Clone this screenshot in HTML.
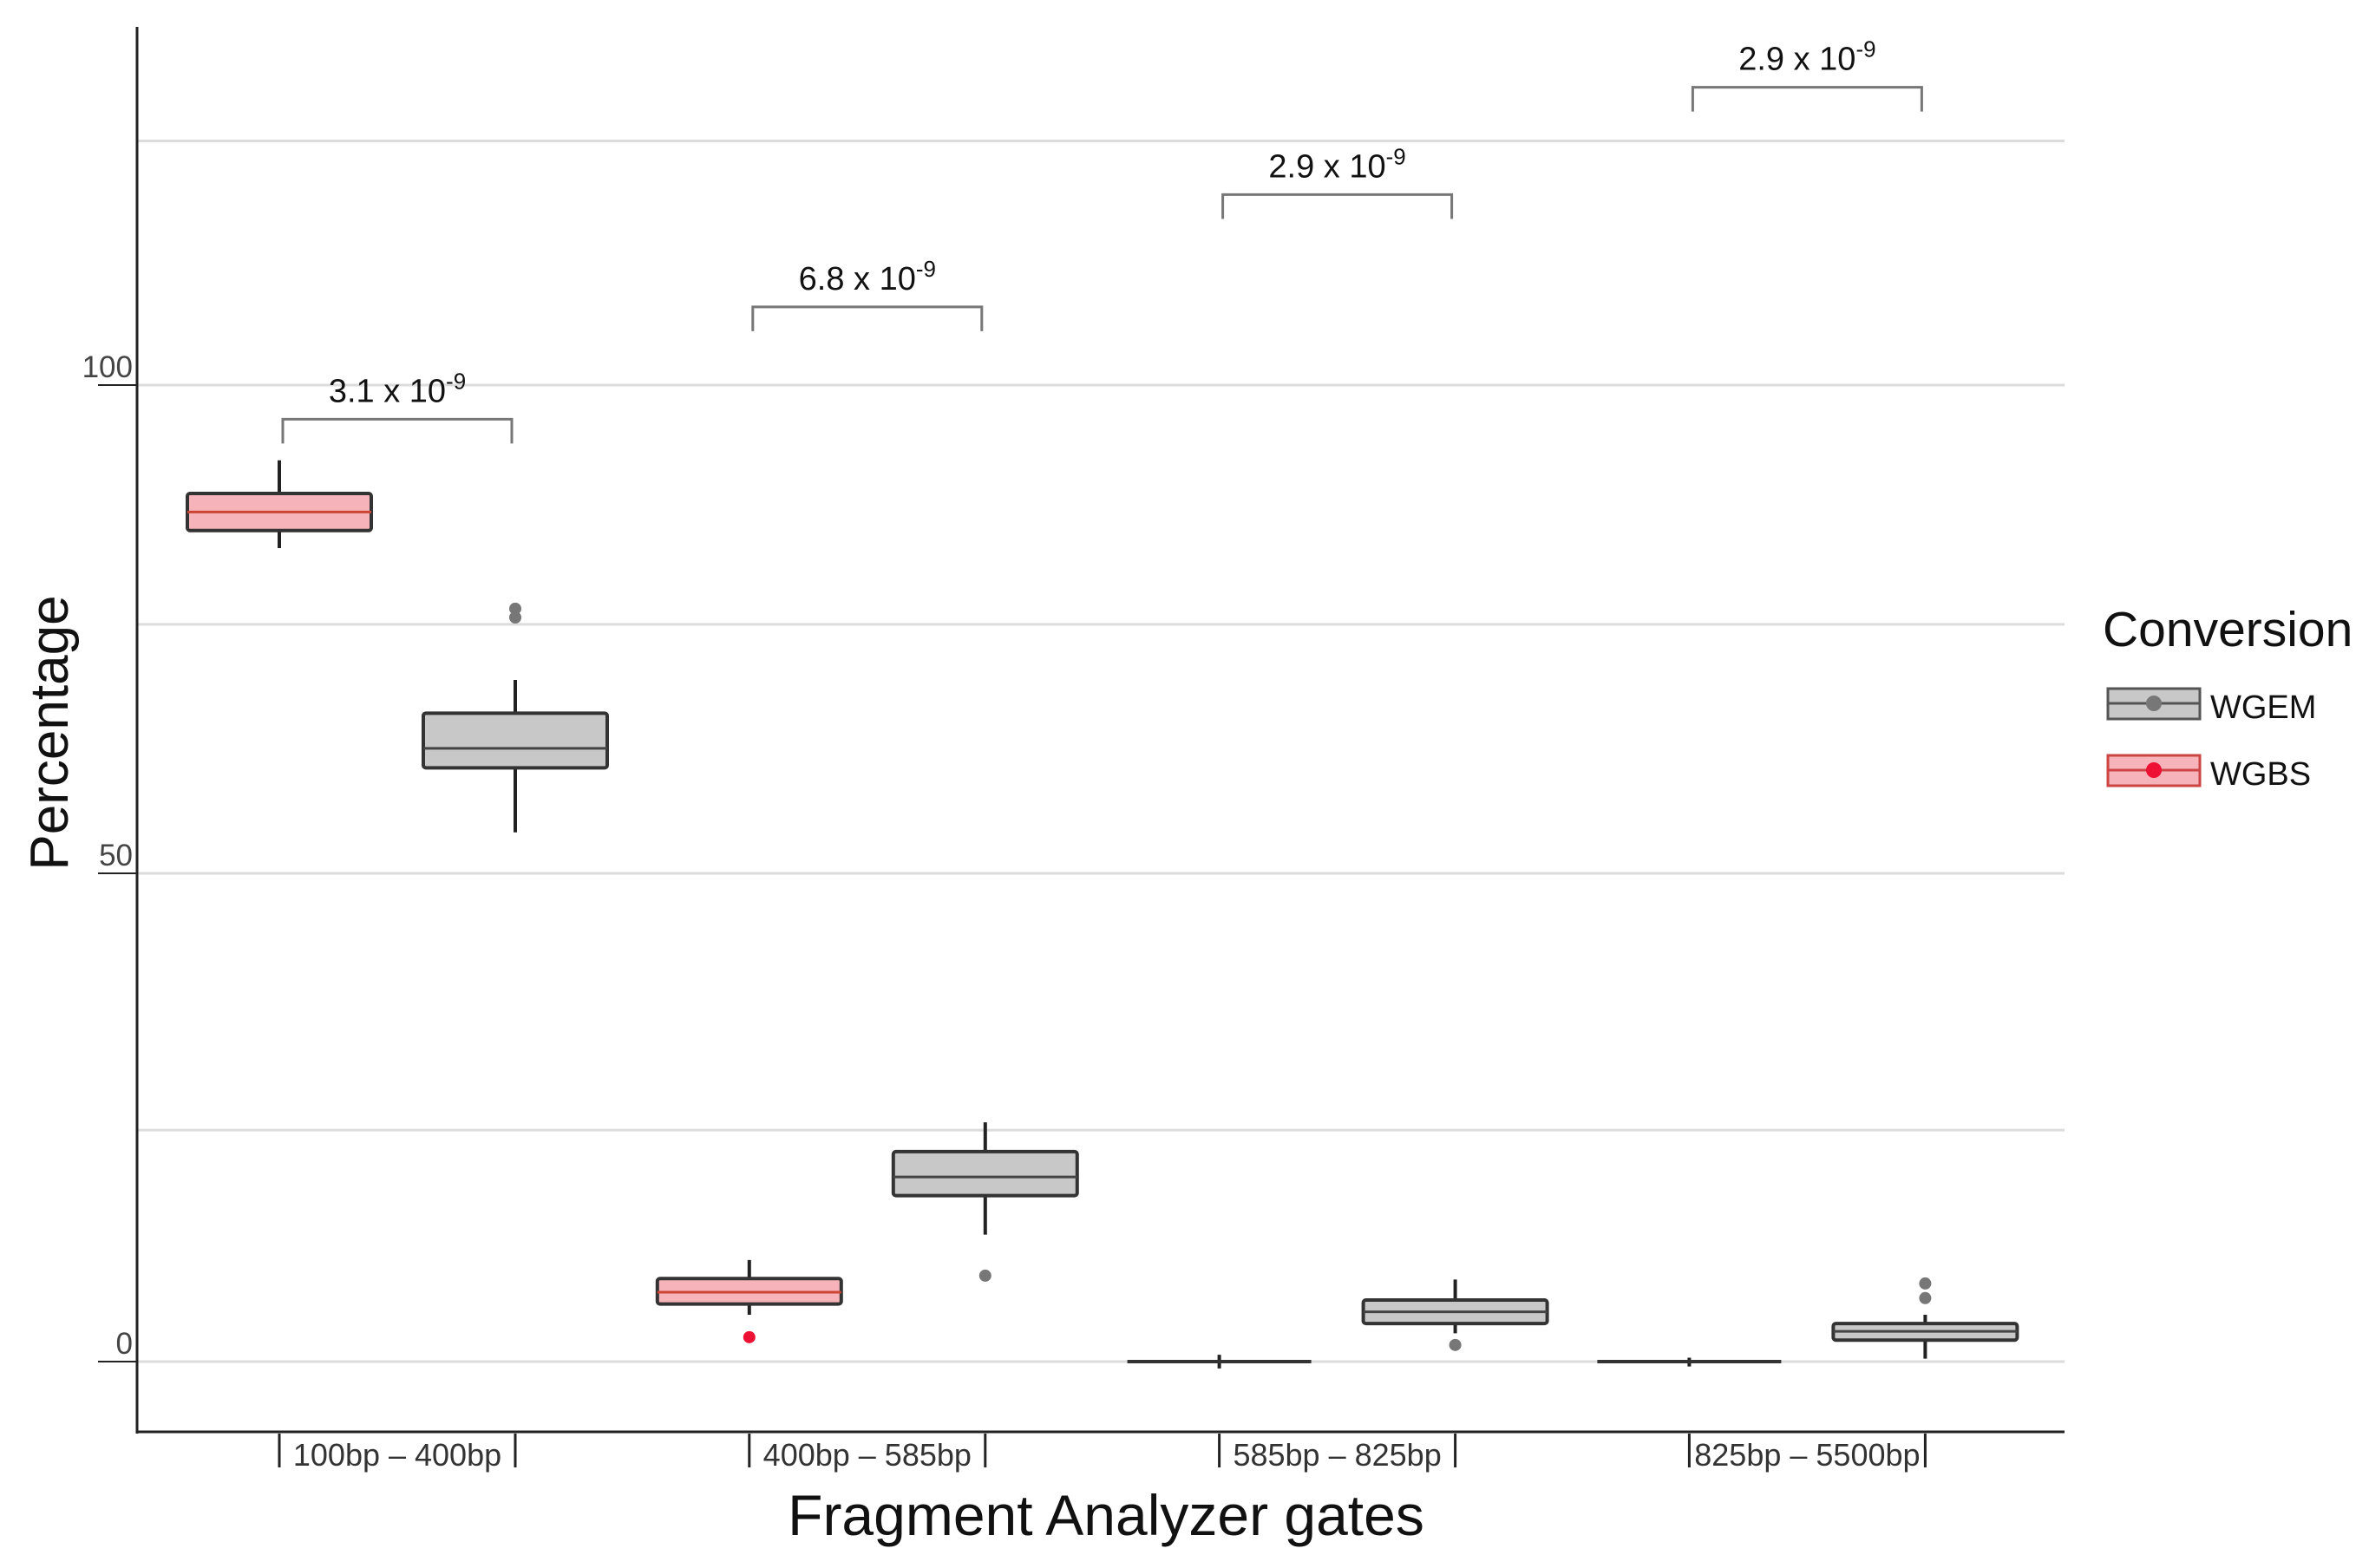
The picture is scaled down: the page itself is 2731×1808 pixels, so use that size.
<!DOCTYPE html>
<html><head><meta charset="utf-8"><style>
html,body{margin:0;padding:0;background:#fff;}
svg{display:block;font-family:"Liberation Sans","DejaVu Sans",sans-serif;}
</style></head><body>
<svg id="chart" width="2731" height="1808" viewBox="0 0 2731 1808" xmlns="http://www.w3.org/2000/svg">
<g id="grid"></g>
<g id="marks"></g>
<g id="axes"></g>
<g id="sig"></g>
<text x="0" y="0" transform="translate(78,845) rotate(-90)" text-anchor="middle" font-size="62" fill="#111">Percentage</text>
<text x="1275" y="1770" text-anchor="middle" font-size="66" fill="#111">Fragment Analyzer gates</text>
<g>
<text x="2424" y="745" font-size="57" fill="#111">Conversion</text>
<g>
<rect x="2430" y="794" width="106" height="35" fill="#c8c8c8" stroke="#555" stroke-width="3"/>
<line x1="2430" y1="811" x2="2536" y2="811" stroke="#555" stroke-width="3"/>
<circle cx="2483" cy="811" r="9" fill="#777"/>
<text x="2548" y="828" font-size="38" fill="#111">WGEM</text>
</g>
<g>
<rect x="2430" y="871" width="106" height="35" fill="#f6b3ba" stroke="#c44" stroke-width="3"/>
<line x1="2430" y1="888" x2="2536" y2="888" stroke="#c44" stroke-width="3"/>
<circle cx="2483" cy="888" r="9" fill="#ee1133"/>
<text x="2548" y="905" font-size="38" fill="#111">WGBS</text>
</g>
</g>
</svg>
<script>
const categories = ["100bp \u2013 400bp","400bp \u2013 585bp","585bp \u2013 825bp","825bp \u2013 5500bp"];
const gridValues = [125, 100, 75.5, 50, 23.7, 0];
const tickValues = [100, 50, 0];
const tickLabels = ["100", "50", "0"];
// [lowWhisker, q1, median, q3, highWhisker]
const wgbsStats = [[83.3,85.1,87.0,88.9,92.3],[4.8,5.9,7.1,8.5,10.4],[-0.7,0,0,0,0.7],[-0.5,0,0,0,0.4]];
const wgemStats = [[54.2,60.8,62.8,66.4,69.8],[13.0,17.0,18.9,21.5,24.5],[2.9,3.9,5.1,6.3,8.4],[0.3,2.2,3.1,3.9,4.8]];
const wgbsOutliers = [[],[2.5],[],[]];
const wgemOutliers = [[77.1,76.2],[8.8],[1.7],[8.0,6.5]];
const pLabels = ["3.1 x 10","6.8 x 10","2.9 x 10","2.9 x 10"];
const bracketValues = [96.5, 108, 119.5, 130.5];

const NS="http://www.w3.org/2000/svg";
const y = v => 1570 - 11.26*v;
const cx = i => 458 + 541.8*i;
const OFF = 136, BW = 212;
function mk(p,tag,attrs){const e=document.createElementNS(NS,tag);for(const k in attrs)e.setAttribute(k,attrs[k]);p.appendChild(e);return e;}
const grid=document.getElementById('grid'), marks=document.getElementById('marks'), axes=document.getElementById('axes'), sig=document.getElementById('sig');

gridValues.forEach(v=>{
  const l=mk(grid,'line',{x1:158,x2:2380,y1:y(v),y2:y(v),stroke:'#dcdcdc','stroke-width':3});
  
  
});
mk(axes,'line',{x1:158,x2:158,y1:31,y2:1653,stroke:'#222','stroke-width':3});
mk(axes,'line',{x1:157,x2:2380,y1:1651,y2:1651,stroke:'#222','stroke-width':3});
tickValues.forEach((v,i)=>{
  mk(axes,'line',{x1:113,x2:158,y1:y(v),y2:y(v),stroke:'#222','stroke-width':2});
  const t=mk(axes,'text',{x:153,y:y(v)-9,'text-anchor':'end','font-size':35,fill:'#444'});
  t.textContent=tickLabels[i];
  
  
});
categories.forEach((c,i)=>{
  const a=cx(i)-OFF, b=cx(i)+OFF;
  mk(axes,'line',{x1:a,x2:a,y1:1653,y2:1692,stroke:'#222','stroke-width':3});
  mk(axes,'line',{x1:b,x2:b,y1:1653,y2:1692,stroke:'#222','stroke-width':3});
  const t=mk(axes,'text',{x:cx(i),y:1690,'text-anchor':'middle','font-size':36,fill:'#333'});
  t.textContent=c;
  
  
});
function box(s,center,fill,stroke,name){
  const g=mk(marks,'g',{});
  
  
  mk(g,'line',{x1:center,x2:center,y1:y(s[4]),y2:y(s[0]),stroke:'#222','stroke-width':4});
  const flat = s[3]-s[1] <= 0.05;
  if(!flat){
    mk(g,'rect',{x:center-BW/2,y:y(s[3]),width:BW,height:y(s[1])-y(s[3]),fill:fill,stroke:'#333','stroke-width':4,rx:3});
  }
  mk(g,'line',{x1:center-BW/2,x2:center+BW/2,y1:y(s[2]),y2:y(s[2]),stroke:flat?'#333':stroke,'stroke-width':flat?4:3});
}
function outliers(arr,center,color){
  arr.forEach(v=>{
    const c=mk(marks,'circle',{cx:center,cy:y(v),r:7,fill:color});
    
    
  });
}
categories.forEach((c,i)=>{
  box(wgbsStats[i],cx(i)-OFF,'#f6b3ba','#c43','box-wgbs');
  box(wgemStats[i],cx(i)+OFF,'#c8c8c8','#444','box-wgem');
  outliers(wgbsOutliers[i],cx(i)-OFF,'#ee1133');
  outliers(wgemOutliers[i],cx(i)+OFF,'#777');
  const a=cx(i)-OFF+4, b=cx(i)+OFF-4, by=y(bracketValues[i]);
  const p=mk(sig,'path',{d:`M${a},${by+28} V${by} H${b} V${by+28}`,fill:'none',stroke:'#777','stroke-width':3});
  
  
  const t=mk(sig,'text',{x:cx(i),y:by-20,'text-anchor':'middle','font-size':38,fill:'#111'});
  
  
  t.textContent=pLabels[i];
  const sup=mk(t,'tspan',{dy:-15,'font-size':26});
  sup.textContent='-9';
});
</script>
</body></html>
